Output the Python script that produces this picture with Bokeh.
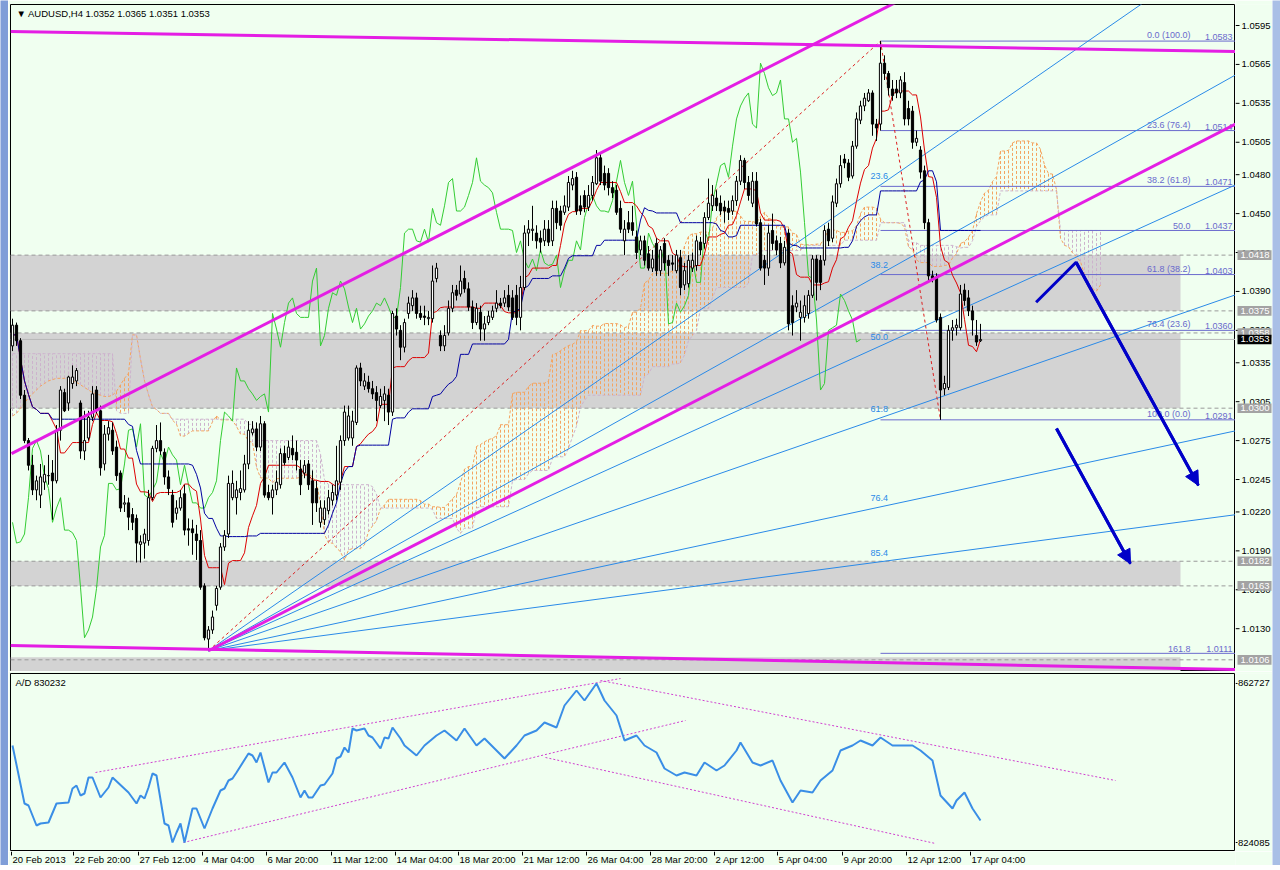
import numpy as np
import pandas as pd
from bokeh.plotting import figure
from bokeh.layouts import column, row
from bokeh.models import Range1d, Label, Arrow, NormalHead
from bokeh.embed import file_html
from bokeh.resources import INLINE
from bokeh.core.properties import value

# ---------------- data (prices in 1/10000) ----------------
open_pts = [10348,10364,10352,10310,10275,10256,10237,10233,10243,10248,10250,10244,10283,10312,10304,10319,10321,10304,10267,10277,
10293,10314,10298,10257,10280,10283,10270,10250,10226,10227,10218,10215,10195,10196,10198,10231,10269,10275,10266,10247,
10233,10219,10223,10234,10207,10207,10203,10198,10163,10122,10129,10148,10162,10193,10203,10231,10231,10235,10237,10257,
10281,10284,10270,10288,10235,10231,10237,10241,10265,10262,10269,10266,10253,10250,10257,10244,10238,10212,10214,10221,
10229,10233,10243,10275,10277,10277,10289,10331,10317,10320,10315,10312,10302,10306,10310,10297,10371,10360,10347,10373,
10379,10385,10373,10371,10369,10369,10400,10356,10348,10358,10377,10391,10388,10400,10392,10378,10366,10374,10361,10366,
10370,10377,10381,10381,10387,10385,10387,10370,10393,10435,10437,10435,10431,10429,10438,10429,10454,10452,10451,10455,
10472,10478,10456,10464,10455,10464,10473,10493,10481,10481,10470,10468,10454,10429,10443,10443,10432,10422,10429,10419,
10408,10427,10406,10427,10414,10412,10406,10416,10395,10396,10408,10410,10428,10427,10447,10456,10462,10458,10455,10454,
10452,10460,10475,10491,10474,10458,10475,10443,10414,10408,10437,10429,10427,10412,10435,10379,10378,10370,10370,10373,
10387,10415,10414,10414,10438,10431,10458,10473,10492,10489,10479,10502,10522,10533,10537,10543,10519,10519,10566,10558,
10546,10546,10543,10551,10531,10529,10505,10499,10483,10443,10402,10401,10370,10315,10316,10360,10362,10362,10391,10385,
10375,10356,10352]
high_pts = [10369,10366,10354,10314,10277,10264,10248,10257,10256,10264,10260,10287,10317,10315,10325,10333,10331,10306,10298,10298,
10317,10317,10302,10287,10290,10289,10275,10252,10233,10231,10223,10218,10202,10207,10237,10271,10287,10289,10269,10252,
10237,10229,10237,10241,10215,10214,10210,10206,10165,10132,10144,10163,10196,10206,10248,10252,10244,10252,10264,10290,
10290,10289,10294,10290,10241,10241,10252,10269,10271,10275,10279,10275,10260,10260,10260,10252,10244,10229,10229,10237,
10241,10271,10279,10302,10302,10298,10333,10335,10327,10325,10321,10317,10315,10317,10315,10375,10377,10364,10369,10386,
10391,10389,10379,10379,10375,10410,10412,10360,10364,10383,10395,10395,10410,10406,10397,10383,10381,10379,10371,10375,
10379,10391,10385,10391,10395,10391,10395,10402,10441,10445,10456,10441,10437,10445,10445,10460,10460,10456,10464,10479,
10483,10482,10464,10468,10472,10479,10499,10497,10487,10485,10475,10472,10460,10445,10452,10456,10437,10433,10433,10425,
10422,10431,10425,10431,10418,10418,10422,10422,10412,10418,10420,10433,10432,10451,10477,10472,10468,10464,10460,10460,
10464,10479,10495,10493,10479,10482,10482,10446,10418,10441,10450,10433,10432,10429,10438,10387,10391,10383,10387,10391,
10418,10418,10418,10441,10443,10464,10477,10495,10496,10492,10506,10528,10537,10543,10546,10545,10523,10583,10572,10560,
10553,10553,10556,10559,10537,10533,10514,10502,10487,10446,10406,10404,10373,10325,10364,10368,10369,10395,10396,10391,
10379,10368,10365]
low_pts = [10344,10348,10307,10273,10252,10233,10229,10223,10237,10241,10214,10242,10275,10297,10298,10315,10317,10261,10260,10275,
10290,10296,10248,10252,10275,10264,10244,10220,10220,10206,10206,10181,10181,10184,10194,10229,10266,10264,10241,10233,
10208,10214,10221,10202,10194,10187,10183,10160,10121,10113,10126,10144,10160,10190,10200,10229,10218,10229,10235,10253,
10279,10267,10267,10231,10229,10218,10233,10238,10256,10260,10260,10252,10233,10246,10237,10210,10220,10208,10210,10218,
10225,10229,10237,10271,10275,10271,10287,10317,10314,10312,10307,10290,10300,10290,10287,10294,10356,10337,10343,10369,
10375,10369,10368,10364,10364,10366,10397,10344,10344,10356,10374,10383,10386,10389,10375,10361,10364,10352,10352,10364,
10368,10374,10377,10378,10375,10368,10364,10360,10391,10425,10429,10423,10420,10425,10425,10425,10438,10437,10449,10452,
10468,10449,10449,10451,10452,10460,10472,10472,10468,10464,10462,10449,10435,10418,10435,10433,10415,10418,10410,10406,
10405,10402,10402,10406,10402,10406,10404,10387,10391,10393,10405,10406,10418,10423,10445,10452,10452,10449,10443,10445,
10449,10456,10472,10469,10460,10455,10440,10406,10395,10402,10422,10418,10408,10410,10360,10356,10374,10352,10366,10369,
10385,10383,10391,10410,10425,10428,10455,10470,10485,10475,10477,10500,10519,10529,10536,10510,10506,10514,10553,10541,
10537,10539,10539,10518,10518,10500,10502,10477,10438,10398,10397,10366,10291,10310,10314,10352,10356,10360,10379,10371,
10356,10348,10351]
close_pts = [10364,10352,10310,10275,10256,10237,10244,10247,10249,10248,10244,10283,10314,10298,10324,10324,10329,10267,10275,10293,
10311,10298,10254,10280,10285,10267,10248,10223,10227,10216,10212,10196,10197,10203,10231,10269,10275,10267,10247,10238,
10212,10223,10231,10206,10206,10204,10198,10162,10123,10129,10139,10161,10193,10202,10242,10242,10237,10238,10257,10283,
10284,10270,10288,10233,10231,10237,10243,10265,10258,10270,10264,10260,10241,10256,10241,10227,10227,10223,10223,10231,
10235,10244,10275,10297,10294,10290,10331,10321,10321,10315,10311,10306,10309,10311,10297,10373,10361,10347,10366,10381,
10385,10373,10370,10370,10370,10398,10408,10348,10356,10377,10389,10387,10398,10392,10378,10366,10377,10361,10365,10371,
10375,10381,10379,10385,10378,10370,10370,10393,10435,10438,10438,10429,10428,10438,10428,10454,10443,10441,10456,10474,
10477,10452,10452,10455,10464,10474,10493,10475,10472,10470,10466,10451,10438,10438,10438,10437,10420,10429,10414,10408,
10415,10406,10422,10412,10410,10411,10418,10393,10406,10414,10414,10429,10422,10447,10458,10464,10456,10452,10452,10451,
10460,10475,10491,10474,10464,10475,10442,10408,10408,10435,10427,10422,10412,10424,10365,10366,10381,10374,10379,10387,
10415,10397,10397,10437,10429,10459,10473,10487,10489,10478,10502,10523,10533,10539,10543,10519,10516,10566,10558,10547,
10541,10543,10553,10523,10523,10505,10508,10482,10443,10402,10400,10368,10314,10319,10360,10362,10364,10388,10383,10375,
10368,10351,10353]

# Ichimoku cloud drawn before the first bar's own history
cloud_a_early = [10294,10296,10300,10304,10308,10311,10314,10317,10319,10321,10322,10323,10323,10323,10322,
                 10321,10320,10318,10316,10314,10312,10311,10310,10309,10309,10310,10313,10318,10323,10327]
cloud_b_early = [10342,10342,10342,10342,10342,10342,10342,10342,10342,10342,10342,10342,10342,10342,10342,
                 10342,10342,10342,10342,10342,10342,10342,10342,10342,10342,10342,10298,10296,10296,10296]
TENKAN, KIJUN, SENKOU = 10, 30, 60

# A/D indicator (bar index, value)
ad_bar = [0,3,4,6,7,9,11,14,15,16,17,18,19,20,22,24,25,29,31,32,33,34,35,36,38,39,40,41,42,43,45,46,48,50,52,53,54,55,56,
          59,60,61,62,64,65,66,68,70,72,73,74,75,77,78,80,81,82,83,84,85,86,88,89,90,92,93,94,95,97,98,101,103,106,108,111,
          113,116,118,121,123,126,128,131,133,136,138,141,143,146,148,151,153,156,158,161,163,166,168,171,173,176,178,181,
          182,185,187,190,192,195,197,200,202,205,207,210,212,215,217,220,222,225,227,230,232,235,236,238,240,242]
ad_value = [847656,833562,833076,828216,828702,828945,833562,833805,837207,837936,835506,835992,839880,839880,835020,837450,
            839880,836235,833562,835506,834777,837450,840852,840366,828702,828216,824085,826515,828702,824085,832347,832347,
            827487,832347,836721,837207,839151,839637,841095,845712,845226,843525,845955,838665,841095,841095,843525,839880,
            835020,836721,835020,835020,837936,838179,840852,844497,844983,847170,845955,851787,851301,851787,850086,849600,
            846927,849600,849357,852030,849357,847656,845226,847656,850086,851301,848871,851787,847656,849357,846441,844497,
            847656,850086,851301,853245,852030,857376,861021,858591,862722,858591,854946,848871,850086,847656,845955,842067,
            840366,841095,840366,843525,841581,842796,846441,848385,843525,842796,844011,839151,833805,836721,836235,839151,
            841581,846441,847656,848871,847656,849600,847656,847656,847656,846441,844011,835506,832347,834291,836235,832347,
            829431]
ad_tl_x0 = [20.75, 42.75, 147.0, 133.25]
ad_tl_y0 = [841095, 824085, 863451, 844740]
ad_tl_x1 = [152.0, 168.25, 275.75, 230.75]
ad_tl_y1 = [863937, 853731, 839151, 823842]
ad_ticks = [862727, 824085]

# horizontal levels / zones
zone_bottom = [1.0375, 1.0300, 1.0163, 1.0090]
zone_top = [1.0418, 1.0358, 1.0182, 1.0108]
hline_levels = [1.0418, 1.0375, 1.0358, 1.0300, 1.0182, 1.0163, 1.0106]
bid_price = 1.0353

# Fibonacci retracement (high bar 217 -> low bar 232)
fib_levels = [1.0583, 1.0514, 1.0471, 1.0437, 1.0403, 1.0360, 1.0291, 1.0111]
fib_names = ["0.0 (100.0)", "23.6 (76.4)", "38.2 (61.8)", "50.0", "61.8 (38.2)", "76.4 (23.6)", "100.0 (0.0)", "161.8"]

# Fibonacci fan from the low (bar 49) to the high (bar 217)
fan_low_bar, fan_low = 49, 1.0113
fan_high_bar, fan_high = 217, 1.0583
fan_ratios = [0.236, 0.382, 0.5, 0.618, 0.764, 0.854]
fan_names = ["23.6", "38.2", "50.0", "61.8", "76.4", "85.4"]

# magenta trend lines (bar, price)
tl_x0 = [-0.5, -0.25, 49.0, -0.5]
tl_y0 = [1.05904, 1.02650, 1.0113, 1.0117]
tl_x1 = [305.75, 225.0, 305.75, 305.75]
tl_y1 = [1.05750, 1.06194, 1.0519, 1.00985]

# red dotted lines
rd_x0 = [49, 217]
rd_y0 = [1.0113, 1.0583]
rd_x1 = [217, 232]
rd_y1 = [1.0583, 1.0291]

# arrows
arrow1_x = [255.9, 265.9, 296.5]
arrow1_y = [1.03817, 1.04125, 1.02404]
arrow2_x = [261.0, 279.5]
arrow2_y = [1.02843, 1.01800]

price_ticks = [1.0595, 1.0565, 1.0535, 1.0505, 1.0480, 1.0450, 1.0420, 1.0390, 1.0360, 1.0335,
               1.0305, 1.0275, 1.0245, 1.0220, 1.0190, 1.0160, 1.0130]
date_ticks = [-0.25, 15.25, 31.5, 47.5, 63.5, 79.75, 95.75, 111.5, 127.5, 143.5, 159.5, 175.5, 191.25, 207.5, 223.5, 239.5]
date_labels = ["20 Feb 2013", "22 Feb 20:00", "27 Feb 12:00", "4 Mar 04:00", "6 Mar 20:00", "11 Mar 12:00",
               "14 Mar 04:00", "18 Mar 20:00", "21 Mar 12:00", "26 Mar 04:00", "28 Mar 20:00", "2 Apr 12:00",
               "5 Apr 04:00", "9 Apr 20:00", "12 Apr 12:00", "17 Apr 04:00"]

# ---------------- styling ----------------
BG = "#f0fff0"
FONT = "Liberation Sans"
FS = "9.5px"
MAG = "#e41ee4"
FIB = "#6a6acd"
FAN = "#2a8ae8"
ARR = "#0000c8"
X0, X1 = -0.5, 305.75
PY0, PY1 = 1.00970, 1.06112
AY0, AY1 = 821898, 865152

o = np.array(open_pts) / 1e4
h = np.array(high_pts) / 1e4
l = np.array(low_pts) / 1e4
c = np.array(close_pts) / 1e4
n = len(c)
idx = np.arange(n)

# Ichimoku from the candles
sh, sl = pd.Series(h), pd.Series(l)
tenkan = (sh.rolling(TENKAN, min_periods=1).max() + sl.rolling(TENKAN, min_periods=1).min()) / 2
kijun = (sh.rolling(KIJUN, min_periods=1).max() + sl.rolling(KIJUN, min_periods=1).min()) / 2
span_a = ((tenkan + kijun) / 2).values
span_b = ((sh.rolling(SENKOU, min_periods=1).max() + sl.rolling(SENKOU, min_periods=1).min()) / 2).values
cx = np.concatenate([np.arange(KIJUN), idx + KIJUN])
ca = np.concatenate([np.array(cloud_a_early) / 1e4, span_a])
cb = np.concatenate([np.array(cloud_b_early) / 1e4, span_b])
ccol = ["#f4a460" if a >= b else "#cdb2cd" for a, b in zip(ca, cb)]


def base_fig(bg=BG, **kw):
    f = figure(toolbar_location=None, output_backend="svg", x_axis_location=None, y_axis_location=None,
               background_fill_color=bg, border_fill_color=bg, min_border_left=0, min_border_right=0,
               min_border_top=0, min_border_bottom=0, **kw)
    f.grid.visible = False
    return f


p = base_fig(frame_width=1225, frame_height=667, x_range=Range1d(X0, X1), y_range=Range1d(PY0, PY1),
             outline_line_color="black")
p.min_border_left = 2
p.min_border_top = 4

# zones & horizontal levels
p.quad(left=-0.5, right=292, bottom=zone_bottom, top=zone_top, fill_color="#d3d3d3", line_color=None)
p.segment(x0=X0, x1=X1, y0=hline_levels, y1=hline_levels, line_color="#9a9a9a", line_dash="4 3")
p.segment(x0=X0, x1=X1, y0=[bid_price], y1=[bid_price], line_color="#b8b8b8")

# cloud
p.segment(x0=cx, y0=ca, x1=cx, y1=cb, line_color=ccol, line_dash="3 2", line_width=1)
p.line(cx, ca, line_color="#f4a460", line_dash="3 2")
p.line(cx, cb, line_color="#cdb2cd", line_dash="3 2")

# fib retracement
p.segment(x0=fan_high_bar, x1=X1, y0=fib_levels, y1=fib_levels, line_color=FIB, line_width=1)
p.text(x=[294.5] * len(fib_levels), y=fib_levels, text=fib_names, text_font=value(FONT),
       text_font_size="9px", text_color=FIB, text_align="right", text_baseline="bottom", y_offset=-1)
p.text(x=[305.0] * len(fib_levels), y=fib_levels, text=["%.4f" % v for v in fib_levels], text_font=value(FONT),
       text_font_size="9px", text_color=FIB, text_align="right", text_baseline="bottom", y_offset=-1)

# fib fan
fan_lv = [fan_high - r * (fan_high - fan_low) for r in fan_ratios]
fan_end = [fan_low + (lv - fan_low) * (X1 - fan_low_bar) / (fan_high_bar - fan_low_bar) for lv in fan_lv]
p.segment(x0=[fan_low_bar] * len(fan_lv), y0=[fan_low] * len(fan_lv), x1=[X1] * len(fan_lv), y1=fan_end,
          line_color=FAN, line_width=1)
p.text(x=[214.5] * len(fan_lv), y=fan_lv, text=fan_names, text_font=value(FONT), text_font_size="9px",
       text_color=FAN, text_align="left", text_baseline="bottom", y_offset=-6)

# red dotted
p.segment(x0=rd_x0, y0=rd_y0, x1=rd_x1, y1=rd_y1, line_color="#dd2020", line_dash="3 3", line_width=1)

# chikou / tenkan / kijun
p.line(idx[:n - KIJUN], c[KIJUN:], line_color="#33cc33", line_width=1)
p.line(idx, tenkan.values, line_color="#dd0000", line_width=1)
p.line(idx, kijun.values, line_color="#0000a0", line_width=1)

# candles
up = c >= o
p.segment(x0=idx, y0=h, x1=idx, y1=l, line_color="black", line_width=1)
p.vbar(x=idx[up], width=0.55, bottom=o[up], top=c[up], fill_color="white", line_color="black", line_width=1)
p.vbar(x=idx[~up], width=0.55, bottom=c[~up], top=o[~up], fill_color="black", line_color="black", line_width=1)

# magenta trend lines
p.segment(x0=tl_x0, y0=tl_y0, x1=tl_x1, y1=tl_y1, line_color=MAG, line_width=3)

# arrows
p.line(arrow1_x, arrow1_y, line_color=ARR, line_width=3)
p.line(arrow2_x, arrow2_y, line_color=ARR, line_width=3)
for ax, ay in ((arrow1_x, arrow1_y), (arrow2_x, arrow2_y)):
    p.add_layout(Arrow(end=NormalHead(size=14, fill_color=ARR, line_color=ARR),
                       x_start=ax[-2], y_start=ay[-2], x_end=ax[-1], y_end=ay[-1],
                       line_color=ARR, line_width=3))

p.add_layout(Label(x=1.0, y=1.06043, text="\u25bc AUDUSD,H4  1.0352 1.0365 1.0351 1.0353", text_font=FONT,
                   text_font_size=FS, text_color="black", text_baseline="middle", text_align="left"))

# ---- right price scale (own small panel sharing the price range) ----
s1 = base_fig(frame_width=37, frame_height=667, x_range=Range1d(0, 37), y_range=p.y_range,
              outline_line_color=None)
s1.min_border_top = 4
s1.segment(x0=0, x1=4, y0=price_ticks, y1=price_ticks, line_color="black")
s1.text(x=6, y=price_ticks, text=["%.4f" % v for v in price_ticks], text_font=value(FONT),
        text_font_size=FS, text_color="black", text_baseline="middle", text_align="left")
BOXH = 0.00037
s1.quad(left=2, right=36, bottom=[v - BOXH for v in hline_levels], top=[v + BOXH for v in hline_levels],
        fill_color="#a3a3a3", line_color=None)
s1.text(x=5, y=hline_levels, text=["%.4f" % v for v in hline_levels], text_font=value(FONT),
        text_font_size=FS, text_color="white", text_baseline="middle", text_align="left")
s1.quad(left=2, right=36, bottom=[bid_price - BOXH], top=[bid_price + BOXH], fill_color="black", line_color=None)
s1.text(x=5, y=[bid_price], text=["%.4f" % bid_price], text_font=value(FONT),
        text_font_size=FS, text_color="white", text_baseline="middle", text_align="left")

# ---------------- A/D panel ----------------
q = base_fig(frame_width=1225, frame_height=178, x_range=p.x_range, y_range=Range1d(AY0, AY1),
             outline_line_color="black")
q.min_border_left = 2
q.min_border_top = 2
q.segment(x0=ad_tl_x0, y0=ad_tl_y0, x1=ad_tl_x1, y1=ad_tl_y1, line_color="#d040d0", line_dash="2 2", line_width=1)
q.line(ad_bar, ad_value, line_color="#3a8ee6", line_width=2)
q.add_layout(Label(x=0.75, y=862965, text="A/D 830232", text_font=FONT, text_font_size=FS,
                   text_color="black", text_baseline="middle", text_align="left"))

s2 = base_fig(frame_width=37, frame_height=178, x_range=Range1d(0, 37), y_range=q.y_range,
              outline_line_color=None)
s2.min_border_top = 2
s2.segment(x0=0, x1=2, y0=ad_ticks, y1=ad_ticks, line_color="black")
s2.text(x=2.5, y=ad_ticks, text=["%d" % v for v in ad_ticks], text_font=value(FONT),
        text_font_size=FS, text_color="black", text_baseline="middle", text_align="left")

# ---------------- time scale ----------------
d = base_fig(frame_width=1225, frame_height=14, x_range=p.x_range, y_range=Range1d(0, 14),
             outline_line_color=None)
d.min_border_left = 2
d.min_border_right = 37
d.segment(x0=date_ticks, x1=date_ticks, y0=14, y1=10, line_color="black")
d.text(x=date_ticks, y=6, text=date_labels, text_font=value(FONT), text_font_size=FS,
       text_color="black", text_baseline="middle", text_align="left", x_offset=1)

# ---------------- terminal window edges ----------------
left_edge = base_fig(bg="#7f9ed8", frame_width=8, frame_height=865, x_range=Range1d(0, 1), y_range=Range1d(0, 1),
                     outline_line_color=None)
right_edge = base_fig(bg="#a9bfe6", frame_width=8, frame_height=865, x_range=Range1d(0, 1), y_range=Range1d(0, 1),
                      outline_line_color=None)

charts = column(row(p, s1, spacing=0), row(q, s2, spacing=0), d, spacing=0)
layout = row(left_edge, charts, right_edge, spacing=0)
open("out.html", "w").write(file_html(layout, INLINE))
